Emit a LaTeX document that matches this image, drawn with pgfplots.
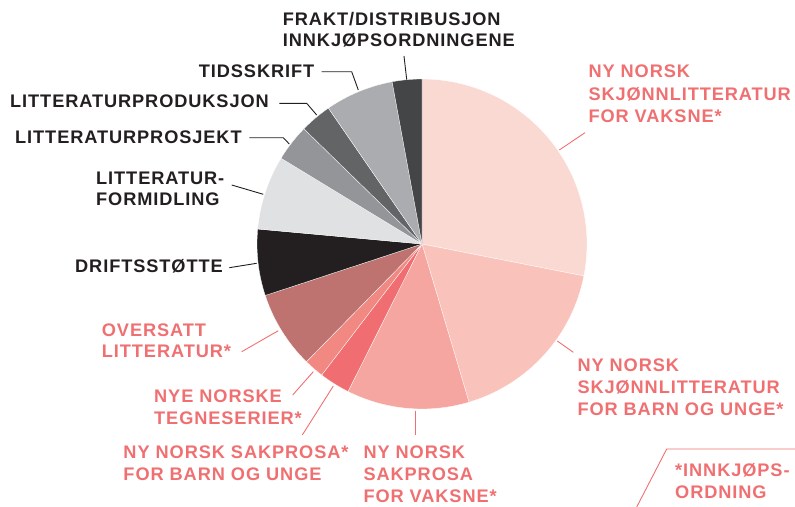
\documentclass[border=0pt]{standalone}
\usepackage{fontspec}
\newfontfamily\lab{Liberation Sans}[LetterSpace=5.0]
\usepackage{pgfplots}
\pgfplotsset{compat=1.18}
\definecolor{s1}{HTML}{FBD9D3}
\definecolor{s2}{HTML}{F9C3BC}
\definecolor{s3}{HTML}{F6A6A0}
\definecolor{s4}{HTML}{F06E71}
\definecolor{s5}{HTML}{F28882}
\definecolor{s6}{HTML}{BF7370}
\definecolor{s7}{HTML}{231F20}
\definecolor{s8}{HTML}{E0E1E3}
\definecolor{s9}{HTML}{939598}
\definecolor{s10}{HTML}{636466}
\definecolor{s11}{HTML}{ABACAF}
\definecolor{s12}{HTML}{434547}
\definecolor{txtd}{HTML}{231F20}
\definecolor{txtr}{HTML}{F07072}
\begin{document}
\begin{tikzpicture}[
  dl/.style={anchor=base west, inner sep=0pt, text=txtd, font=\lab\bfseries\fontsize{18.2bp}{21.7bp}\selectfont},
  rl/.style={anchor=base west, inner sep=0pt, text=txtr, font=\lab\bfseries\fontsize{18.2bp}{21.7bp}\selectfont},
  dline/.style={draw=txtd, line width=0.9bp},
  rline/.style={draw=txtr, line width=0.9bp}]
\useasboundingbox (0,0) rectangle (795bp,-507bp);
\begin{axis}[at={(422bp,-244bp)}, anchor=origin, x=165bp, y=165bp,
  xmin=-1.05, xmax=1.05, ymin=-1.05, ymax=1.05, hide axis, clip=false]
\xdef\angstart{90}
\foreach \v/\c in {28.1/s1, 17.3/s2, 12.0/s3, 3.0/s4, 1.95/s5, 7.6/s6, 6.5/s7, 7.25/s8, 3.6/s9, 3.1/s10, 6.7/s11, 2.9/s12} {
  \pgfmathsetmacro\angend{\angstart-3.6*\v}
  \edef\temp{\noexpand\fill[\c, draw=white, line width=0.3bp] (axis cs:0,0) -- (axis cs:{cos(\angstart)},{sin(\angstart)}) arc[start angle=\angstart, end angle=\angend, radius=165bp] -- cycle;}
  \temp
  \xdef\angstart{\angend}
}
\end{axis}
\begin{scope}[x=1bp, y=-1bp]
% dark labels
\node[dl] at (282.7,25) {FRAKT/DISTRIBUSJON};
\node[dl] at (282.7,46.7) {INNKJØPSORDNINGENE};
\draw[dline] (404,56) -- (406.7,79.5);
\node[dl] at (198.7,77.3) {TIDSSKRIFT};
\draw[dline] (321.7,71.7) -- (351.7,71.7) -- (358.3,90);
\node[dl] at (10,107.3) {LITTERATURPRODUKSJON};
\draw[dline] (279.3,103.3) -- (306.7,103.3) -- (316.7,115);
\node[dl] at (15,143.3) {LITTERATURPROSJEKT};
\draw[dline] (249.3,137.7) -- (283.3,137.7) -- (289.3,144);
\node[dl] at (96,184) {LITTERATUR-};
\node[dl] at (96,205.5) {FORMIDLING};
\draw[dline] (231.7,185) -- (263.3,194.3);
\node[dl] at (75,272.7) {DRIFTSSTØTTE};
\draw[dline] (229.3,267.7) -- (256.7,263.3);
% red labels
\node[rl] at (588.3,77.3) {NY NORSK};
\node[rl] at (588.3,100) {SKJØNNLITTERATUR};
\node[rl] at (588.3,122.3) {FOR VAKSNE*};
\draw[rline] (559.3,150) -- (585,132.7);
\node[rl] at (577.3,371) {NY NORSK};
\node[rl] at (577.3,393.5) {SKJØNNLITTERATUR};
\node[rl] at (577.3,415) {FOR BARN OG UNGE*};
\draw[rline] (557.3,341) -- (573.3,352.3);
\node[rl] at (101.7,336) {OVERSATT};
\node[rl] at (101.7,357.3) {LITTERATUR*};
\draw[rline] (241.7,351.7) -- (278.3,330.7);
\node[rl] at (154,402.3) {NYE NORSKE};
\node[rl] at (154,424) {TEGNESERIER*};
\draw[rline] (292.7,395) -- (313.3,371.7);
\node[rl] at (123.3,458.3) {NY NORSK SAKPROSA*};
\node[rl] at (123.3,480) {FOR BARN OG UNGE};
\draw[rline] (302.3,435) -- (333.3,386);
\node[rl] at (363.3,458.3) {NY NORSK};
\node[rl] at (363.3,480.5) {SAKPROSA};
\node[rl] at (363.3,502.3) {FOR VAKSNE*};
\draw[rline] (415,410.7) -- (415,435);
\node[rl] at (675,476.7) {*INNKJØPS-};
\node[rl] at (675,498.3) {ORDNING};
\draw[rline] (795,449) -- (666.7,449) -- (636.7,507);
\end{scope}
\end{tikzpicture}
\end{document}
